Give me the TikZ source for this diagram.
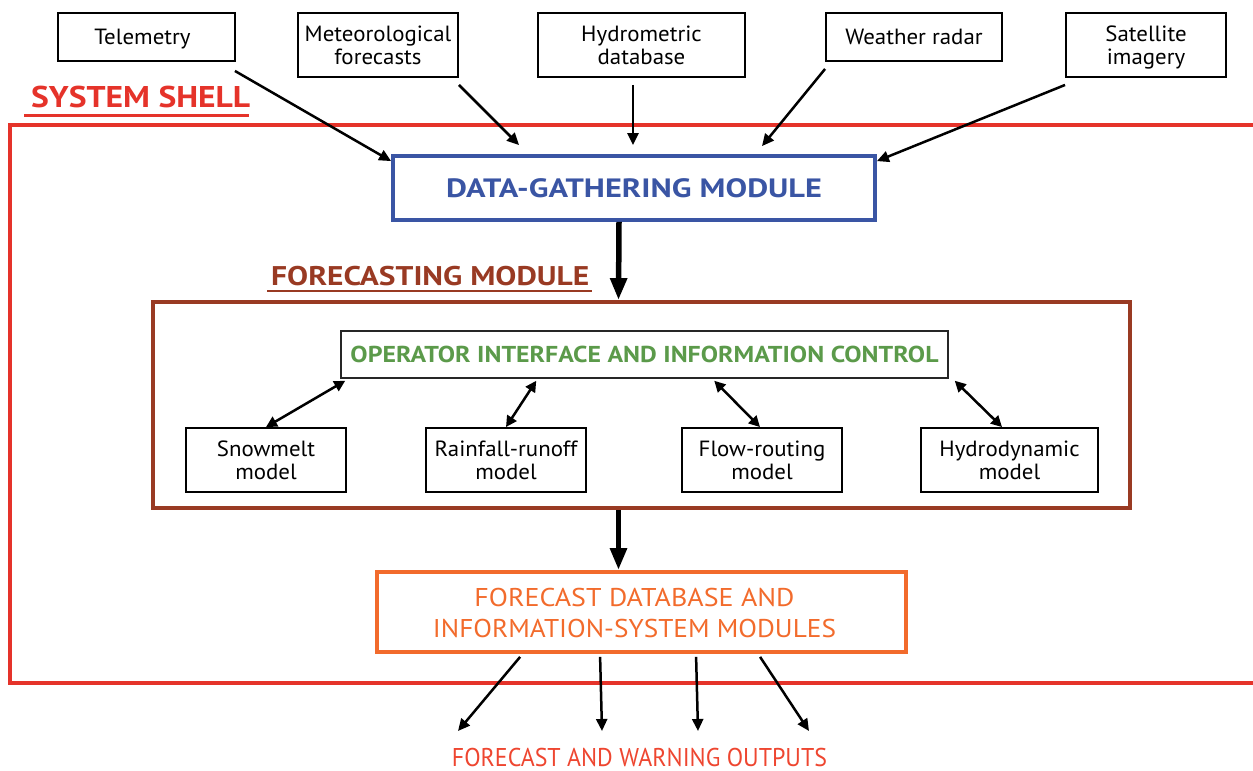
\documentclass[tikz,border=0pt]{standalone}
\usepackage{fontspec}
\setmainfont{PT Sans}
\usetikzlibrary{arrows.meta,calc}
\definecolor{shellred}{HTML}{E5332A}
\definecolor{dgblue}{HTML}{3A55A4}
\definecolor{fmbrown}{HTML}{993A23}
\definecolor{opgreen}{HTML}{5B9A4A}
\definecolor{fdborange}{HTML}{F26B2C}
\definecolor{outred}{HTML}{EE4630}
\newcommand{\fitw}[2]{\resizebox{#1}{\height}{#2}}
\newcommand{\wsc}[1]{\scalebox{1.04}[1]{#1}}
\begin{document}
\begin{tikzpicture}[x=1pt,y=-1pt,
  src/.style={draw=black,line width=1.9pt,inner sep=0pt,align=center,text depth=0pt,font=\fontsize{22}{23}\selectfont},
  model/.style={src},
  arr/.style={draw=black,line width=2.5pt,-{Triangle[length=12pt,width=11pt]}},
  dbl/.style={draw=black,line width=2.5pt,{Triangle[length=11pt,width=11pt]}-{Triangle[length=11pt,width=11pt]}},
  thickarr/.style={draw=black,line width=5.5pt,-{Triangle[length=22pt,width=16pt]}},
  lbl/.style={inner sep=0pt,font=\fontsize{30}{32}\selectfont\bfseries}]
\useasboundingbox (0,0) rectangle (1253,771);

% system shell
\draw[shellred,line width=4pt] (1256,125) -- (10,125) -- (10,683) -- (1256,683);
\node[lbl,text=shellred,anchor=base west] (shl) at (31,107) {\fitw{219pt}{SYSTEM SHELL}};
\draw[shellred,line width=2.8pt] ($(shl.base west)+(-7,8.5)$) -- ($(shl.base east)+(-1,8.5)$);

% sources
\node[src,minimum width=177pt,minimum height=48pt] (tel) at (146.5,37) {\wsc{Telemetry}\hspace*{8pt}};
\node[src,minimum width=160pt,minimum height=64pt] (met) at (378,45) {\wsc{Meteorological}\\\wsc{forecasts}};
\node[src,minimum width=207pt,minimum height=64pt] (hyd) at (641.5,45) {\wsc{Hydrometric}\\\wsc{database}};
\node[src,minimum width=176pt,minimum height=48pt] (rad) at (914,37) {\wsc{Weather radar}};
\node[src,minimum width=160pt,minimum height=64pt] (sat) at (1146,45) {\wsc{Satellite}\\\wsc{imagery}};

% data gathering
\node[draw=dgblue,line width=3.8pt,inner sep=0pt,minimum width=482pt,minimum height=64pt,
  text=dgblue,font=\fontsize{26.5}{30}\selectfont\bfseries] (dg) at (634,188) {\fitw{376pt}{DATA-GATHERING MODULE}};

\draw[arr] ($(tel.south east)+(-1,9)$) -- ($(dg.north west)+(0,7)$);
\draw[arr] ($(met.south east)+(0,7)$) -- ($(dg.north west)+(128,-9)$);
\draw[arr] ($(hyd.south)+(-8.5,7)$) -- ($(dg.north)+(-1,-9)$);
\draw[arr] ($(rad.south west)+(0,7)$) -- ($(dg.north)+(128,-8)$);
\draw[arr] ($(sat.south west)+(0,7)$) -- ($(dg.north east)+(0,7)$);

% forecasting module
\node[lbl,text=fmbrown,anchor=base west,font=\fontsize{27}{30}\selectfont\bfseries] (fml) at (271,285) {\fitw{318pt}{FORECASTING MODULE}};
\draw[fmbrown,line width=2.8pt] ($(fml.base west)+(-4,6)$) -- ($(fml.base east)+(3,6)$);
\node[draw=fmbrown,line width=3.8pt,inner sep=0pt,minimum width=977pt,minimum height=206pt] (fm) at (641.5,405) {};
\draw[thickarr] ($(dg.south)+(-15,0)$) -- ($(fm.north)+(-23,0)$);

\node[draw=black!85,line width=1.5pt,inner sep=0pt,minimum width=607pt,minimum height=47pt,
  text=opgreen,font=\fontsize{23}{26}\selectfont\bfseries] (op) at (644.5,354.5) {\fitw{588pt}{OPERATOR INTERFACE AND INFORMATION CONTROL}};

\node[model,minimum width=160pt,minimum height=64pt] (snow) at (266,460) {\wsc{Snowmelt}\\\wsc{model}};
\node[model,minimum width=160pt,minimum height=64pt] (rain) at (506,460) {\wsc{Rainfall-runoff}\\\wsc{model}};
\node[model,minimum width=160pt,minimum height=64pt] (flow) at (762,460) {\wsc{Flow-routing}\\\wsc{model}};
\node[model,minimum width=177pt,minimum height=64pt] (hydm) at (1009.5,460) {\wsc{Hydrodynamic}\\\wsc{model}};

\draw[dbl] (snow.north) -- ($(op.south west)+(5,2)$);
\draw[dbl] (rain.north) -- ($(op.south west)+(196,2)$);
\draw[dbl] ($(flow.north)+(-2,0)$) -- ($(op.south west)+(374,2)$);
\draw[dbl] ($(hydm.north)+(-7.5,0)$) -- ($(op.south east)+(6,2)$);

% forecast database
\node[draw=fdborange,line width=3.8pt,inner sep=0pt,minimum width=529pt,minimum height=80pt] (fdb) at (641.5,612) {};
\node[inner sep=0pt,text=fdborange,align=center,text depth=0pt,font=\fontsize{25.7}{30.5}\selectfont] (fdbt) at ($(fdb.center)+(-7,1)$) {\fitw{320pt}{FORECAST DATABASE AND}\\\fitw{403pt}{INFORMATION-SYSTEM MODULES}};
\draw[thickarr] ($(fm.south)+(-23,0)$) -- ($(fdb.north)+(-23,0)$);

% outputs
\node[inner sep=0pt,anchor=base,text=outred,font=\fontsize{25.7}{28}\selectfont] (out) at (639.5,766) {\fitw{375pt}{FORECAST AND WARNING OUTPUTS}};
\coordinate (o1) at (458,731);
\coordinate (o2) at (602,731);
\coordinate (o3) at (698,731);
\coordinate (o4) at (809,731);
\draw[arr] ($(fdb.south west)+(145,3)$) -- (o1);
\draw[arr] ($(fdb.south west)+(225,3)$) -- (o2);
\draw[arr] ($(fdb.south west)+(321,3)$) -- (o3);
\draw[arr] ($(fdb.south west)+(385,3)$) -- (o4);
\end{tikzpicture}
\end{document}
